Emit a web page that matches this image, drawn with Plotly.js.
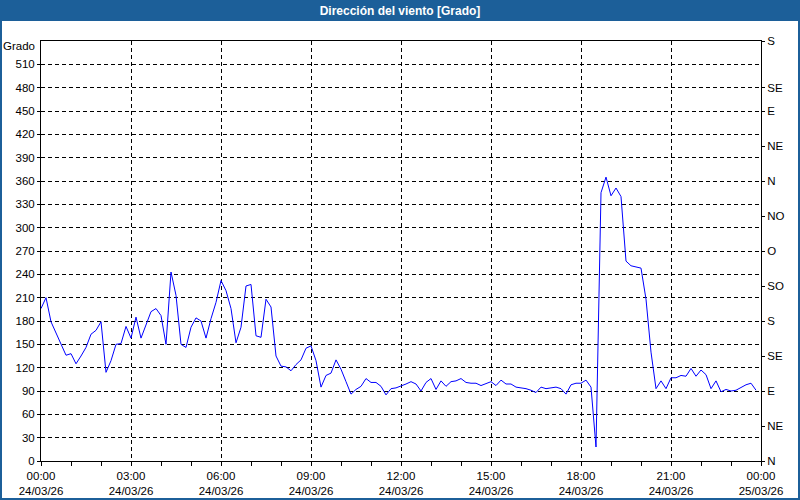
<!DOCTYPE html>
<html>
<head>
<meta charset="utf-8">
<script src="https://cdn.plot.ly/plotly-3.0.1.min.js"></script>
<style>
  html, body { margin: 0; padding: 0; background: #ffffff; }
  #chart { width: 800px; height: 500px; }
</style>
</head>
<body>
<div id="chart"></div>
<script>
// ---- data (10-minute samples from 24/03/26 00:00) ----
const startTime = '2026-03-24T00:00:00';
const stepMinutes = 10;
const direction = [
  196, 210, 179, 165, 150, 136, 138, 125, 135, 146, 163, 168,
  179, 114, 129, 150, 151, 173, 158, 185, 158, 174, 192, 196,
  187, 150, 243, 213, 150, 146, 172, 184, 180, 158, 183, 204,
  232, 219, 196, 152, 172, 225, 227, 161, 159, 208, 198, 135,
  122, 121, 116, 124, 130, 145, 148, 129, 95, 110, 113, 130,
  118, 102, 86, 92, 96, 106, 101, 101, 96, 85, 93, 94,
  96, 99, 102, 99, 90, 101, 106, 92, 103, 96, 102, 103,
  106, 101, 100, 100, 97, 100, 102, 97, 104, 99, 99, 95,
  94, 93, 91, 88, 95, 93, 94, 95, 93, 86, 98, 100,
  100, 104, 95, 18, 345, 365, 341, 351, 340, 257, 251, 249,
  248, 208, 140, 93, 103, 93, 107, 107, 110, 109, 119, 109,
  117, 111, 93, 103, 89, 92, 90, 91, 95, 98, 100, 91
];
const xTickVals = [
  '2026-03-24 00:00', '2026-03-24 03:00', '2026-03-24 06:00', '2026-03-24 09:00',
  '2026-03-24 12:00', '2026-03-24 15:00', '2026-03-24 18:00', '2026-03-24 21:00',
  '2026-03-25 00:00'
];
const xTickText = [
  '00:00<br>24/03/26', '03:00<br>24/03/26', '06:00<br>24/03/26', '09:00<br>24/03/26',
  '12:00<br>24/03/26', '15:00<br>24/03/26', '18:00<br>24/03/26', '21:00<br>24/03/26',
  '00:00<br>25/03/26'
];
const yTickVals = [0, 30, 60, 90, 120, 150, 180, 210, 240, 270, 300, 330, 360, 390, 420, 450, 480, 510];
const compassVals = [0, 45, 90, 135, 180, 225, 270, 315, 360, 405, 450, 480, 540];
const compassText = ['N', 'NE', 'E', 'SE', 'S', 'SO', 'O', 'NO', 'N', 'NE', 'E', 'SE', 'S'];

// ---- build timestamps ----
function pad(n) { return (n < 10 ? '0' : '') + n; }
const t0 = new Date(startTime);
const times = direction.map((_, i) => {
  const d = new Date(t0.getTime() + i * stepMinutes * 60000);
  return d.getFullYear() + '-' + pad(d.getMonth() + 1) + '-' + pad(d.getDate()) + ' ' +
         pad(d.getHours()) + ':' + pad(d.getMinutes());
});

const FONT = 'Liberation Sans, Arial, sans-serif';
const BLUE = '#1c5f99';

const trace = {
  x: times,
  y: direction,
  type: 'scatter',
  mode: 'lines',
  line: { color: '#0000ff', width: 1 },
  hoverinfo: 'x+y',
  showlegend: false
};

// pixel helpers for paper coordinates (plot area 41..761 x 41..461)
const L = 41, R = 39, T = 41, B = 39, W = 800, H = 500;
const pw = W - L - R, ph = H - T - B;
const px = v => (v - L) / pw;
const py = v => (H - B - v) / ph;

const layout = {
  width: W, height: H,
  margin: { l: L, r: R, t: T, b: B, pad: 0 },
  paper_bgcolor: '#ffffff',
  plot_bgcolor: '#ffffff',
  font: { family: FONT, size: 11.5, color: '#000000' },
  title: {
    text: 'Dirección del viento [Grado]',
    font: { family: FONT, size: 12, color: '#ffffff', weight: 'bold' },
    xref: 'container', x: 0.5, xanchor: 'center',
    yref: 'container', y: 1 - 10.5 / H, yanchor: 'middle'
  },
  xaxis: {
    type: 'date',
    range: [xTickVals[0], xTickVals[xTickVals.length - 1]],
    tickmode: 'array', tickvals: xTickVals, ticktext: xTickText,
    ticks: 'outside', ticklen: 4, tickcolor: '#000', tickwidth: 1,
    showline: true, linecolor: '#000', linewidth: 1, mirror: true,
    showgrid: true, gridcolor: '#000', gridwidth: 1, griddash: '4px,3px',
    zeroline: false,
    minor: { tickmode: 'linear', tick0: '2026-03-24 00:00', dtick: 3600000,
             ticks: 'outside', ticklen: 4, tickcolor: '#000', showgrid: false },
    tickfont: { family: FONT, size: 11.5, color: '#000' },
    fixedrange: true
  },
  yaxis: {
    range: [0, 540],
    tickmode: 'array', tickvals: yTickVals,
    ticks: 'outside', ticklen: 3, tickcolor: '#000',
    showline: true, linecolor: '#000', linewidth: 1,
    showgrid: true, gridcolor: '#000', gridwidth: 1, griddash: '4px,3px',
    zeroline: false,
    tickfont: { family: FONT, size: 11.5, color: '#000' },
    fixedrange: true
  },
  yaxis2: {
    overlaying: 'y', side: 'right',
    range: [0, 540],
    tickmode: 'array', tickvals: compassVals, ticktext: compassText,
    ticks: 'outside', ticklen: 3, tickcolor: '#000',
    showline: true, linecolor: '#000', linewidth: 1,
    showgrid: false, zeroline: false,
    tickfont: { family: FONT, size: 11.5, color: '#000' },
    fixedrange: true
  },
  annotations: [{
    text: 'Grado', xref: 'paper', yref: 'paper',
    x: px(37), xanchor: 'right', y: py(46), yanchor: 'middle',
    showarrow: false, font: { family: FONT, size: 11.5, color: '#000' }
  }],
  shapes: [
    { type: 'rect', xref: 'paper', yref: 'paper', layer: 'below',
      x0: px(0), x1: px(800), y0: py(21), y1: py(0),
      fillcolor: BLUE, line: { width: 0 } },
    { type: 'rect', xref: 'paper', yref: 'paper', layer: 'below',
      x0: px(1), x1: px(799), y0: py(499), y1: py(1),
      fillcolor: 'rgba(0,0,0,0)', line: { color: BLUE, width: 2 } }
  ]
};

// invisible companion trace so the compass axis is registered
const compassTrace = {
  x: [times[0]], y: [direction[0]], yaxis: 'y2', type: 'scatter', mode: 'lines',
  line: { width: 0 }, hoverinfo: 'skip', showlegend: false
};

Plotly.newPlot('chart', [trace, compassTrace], layout, { displayModeBar: false, staticPlot: true });
</script>
</body>
</html>
